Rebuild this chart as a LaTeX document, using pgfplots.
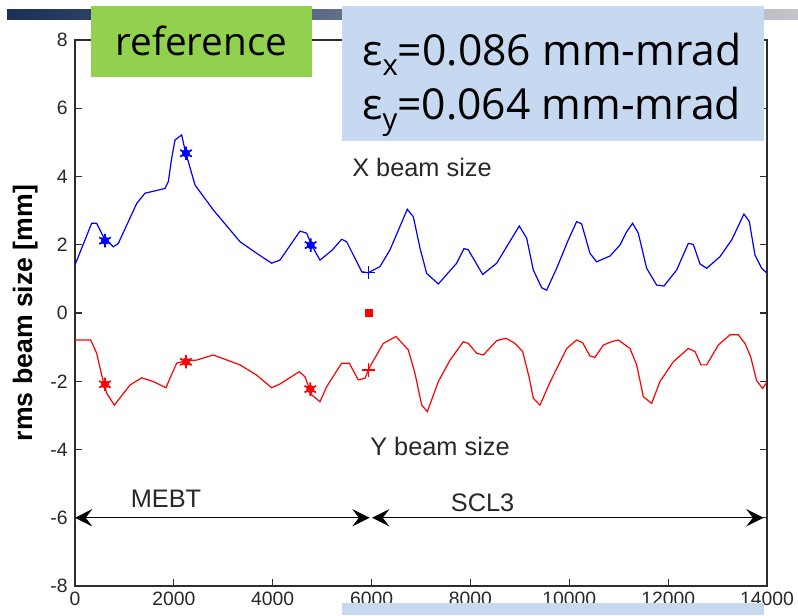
\documentclass[border=0pt]{standalone}
\usepackage{pgfplots}
\pgfplotsset{compat=1.18}
\usepackage{fontspec}
\setmainfont{Liberation Sans}
\newfontfamily\osans{Open Sans}
\usetikzlibrary{arrows.meta}

\definecolor{slidegreen}{RGB}{146,208,80}
\definecolor{slideblue}{RGB}{198,217,241}
\definecolor{barnavy}{RGB}{25,48,88}
\definecolor{bargrey}{RGB}{196,197,202}
\definecolor{axisgrey}{RGB}{45,45,45}
\definecolor{textgrey}{RGB}{40,40,40}

\begin{document}
\begin{tikzpicture}
\useasboundingbox (0,0) rectangle (598.5pt,461.25pt);

\begin{axis}[
  at={(56.25pt,21.75pt)}, anchor=south west,
  scale only axis, width=519pt, height=409.5pt,
  xmin=0, xmax=14000, ymin=-8, ymax=8,
  xtick={0,2000,...,14000}, ytick={-8,-6,...,8},
  scaled x ticks=false,
  tick align=inside, major tick length=5pt,
  axis line style={line width=0.9pt, draw=axisgrey},
  every tick/.style={line width=0.9pt, draw=axisgrey},
  every tick label/.append style={font=\fontsize{14.5}{16}\selectfont, text=textgrey},
  /pgf/number format/assume math mode=true,
  /pgf/number format/1000 sep={},
  yticklabel style={xshift=-2pt},
  xticklabel style={yshift=-1pt},
  ylabel={rms beam size [mm]},
  ylabel style={font=\bfseries\fontsize{20}{22}\selectfont, at={(axis description cs:-0.072,0.5)}, anchor=center},
  clip=false,
]
% horizontal beam size
\addplot[blue, line width=0.9pt] coordinates {
(0,1.41)(337,2.63)(438,2.63)(573,2.24)(776,1.94)(877,2.04)(1248,3.21)(1416,3.51)
(1821,3.65)(1888,3.85)(1955,4.53)(2023,5.07)(2158,5.22)(2225,4.78)(2428,3.75)
(2798,3.02)(3338,2.09)(3675,1.75)(3978,1.46)(4147,1.55)(4552,2.40)(4687,2.34)
(4788,1.99)(4956,1.55)(5200,1.84)(5395,2.16)(5496,2.09)(5800,1.21)(5934,1.18)
(6170,1.36)(6372,1.85)(6723,3.04)(6845,2.82)(6980,1.90)(7115,1.16)(7351,0.85)
(7722,1.46)(7870,1.89)(7957,1.85)(8248,1.13)(8531,1.46)(8988,2.55)(9138,2.19)
(9272,1.26)(9441,0.74)(9542,0.67)(9744,1.31)(9980,2.14)(10149,2.68)(10250,2.61)
(10418,1.75)(10553,1.50)(10823,1.67)(11025,1.99)(11160,2.38)(11281,2.63)
(11396,2.34)(11565,1.31)(11767,0.82)(11915,0.79)(12172,1.26)(12408,2.04)
(12509,2.01)(12644,1.44)(12779,1.31)(13048,1.65)(13285,2.14)(13533,2.90)
(13642,2.68)(13756,1.70)(13891,1.31)(13992,1.18)};
% vertical beam size (plotted negative)
\addplot[red, line width=0.9pt] coordinates {
(0,-0.79)(317,-0.79)(438,-1.18)(540,-1.82)(641,-2.35)(796,-2.70)(1113,-2.11)
(1349,-1.90)(1585,-2.01)(1841,-2.19)(1922,-1.91)(2057,-1.47)(2225,-1.40)
(2462,-1.38)(2798,-1.23)(3338,-1.52)(3675,-1.82)(3978,-2.19)(4147,-2.08)
(4538,-1.72)(4653,-1.87)(4788,-2.40)(4956,-2.60)(5091,-2.16)(5395,-1.47)
(5549,-1.47)(5731,-1.96)(5867,-1.91)(5968,-1.57)(6237,-0.89)(6494,-0.69)
(6743,-1.08)(6878,-1.77)(7014,-2.70)(7128,-2.89)(7351,-2.01)(7587,-1.38)
(7856,-0.84)(7957,-0.89)(8126,-1.18)(8261,-1.23)(8531,-0.81)(8719,-0.74)
(8901,-0.89)(9057,-1.13)(9191,-1.91)(9272,-2.50)(9407,-2.70)(9609,-2.03)
(9947,-1.04)(10149,-0.79)(10270,-0.87)(10418,-1.26)(10519,-1.30)(10688,-0.94)
(10857,-0.84)(10991,-0.79)(11228,-1.04)(11363,-1.52)(11497,-2.45)(11666,-2.65)
(11834,-2.01)(12104,-1.43)(12408,-1.04)(12543,-1.13)(12664,-1.52)(12779,-1.52)
(13014,-0.94)(13250,-0.64)(13419,-0.64)(13554,-0.89)(13669,-1.28)(13790,-1.98)
(13911,-2.21)(13992,-2.04)};
% measured sizes
\addplot[blue, only marks, mark=asterisk, mark size=5pt, mark options={line width=1.3pt}]
  coordinates {(607,2.12)(2245,4.68)(4768,1.99)};
\addplot[blue, only marks, mark=*, mark size=2.8pt]
  coordinates {(607,2.12)(2245,4.68)(4768,1.99)};
\addplot[red, only marks, mark=asterisk, mark size=5pt, mark options={line width=1.3pt}]
  coordinates {(607,-2.09)(2245,-1.43)(4760,-2.23)};
\addplot[red, only marks, mark=*, mark size=2.8pt]
  coordinates {(607,-2.09)(2245,-1.43)(4760,-2.23)};
\addplot[blue, only marks, mark=+, mark size=5pt, mark options={line width=0.9pt}]
  coordinates {(5934,1.18)};
\addplot[red, only marks, mark=+, mark size=5pt, mark options={line width=0.9pt}]
  coordinates {(5934,-1.67)};
\addplot[red, only marks, mark=square*, mark size=2.6pt]
  coordinates {(5934,0)};
% section extents
\addplot[black, line width=0.75pt, arrows={Stealth[length=13pt,width=13pt,inset=5pt]-Stealth[length=13pt,width=13pt,inset=5pt]}]
  coordinates {(0,-6)(5960,-6)};
\addplot[black, line width=0.75pt, arrows={Stealth[length=13pt,width=13pt,inset=5pt]-Stealth[length=13pt,width=13pt,inset=5pt]}]
  coordinates {(6010,-6)(13930,-6)};
\node[font=\fontsize{19}{21}\selectfont, text=textgrey] at (axis cs:1841,-5.45) {MEBT};
\node[font=\fontsize{19}{21}\selectfont, text=textgrey] at (axis cs:8245,-5.55) {SCL3};
\node[font=\fontsize{19}{21}\selectfont, text=textgrey] at (axis cs:7020,4.28) {X beam size};
\node[font=\fontsize{19}{21}\selectfont, text=textgrey] at (axis cs:7384,-3.90) {Y beam size};
\end{axis}

% slide decorations drawn over the plot, in pixel units from the top left
\begin{scope}[x=0.75pt,y=-0.75pt,yshift=461.25pt]
  \shade[left color=barnavy, right color=bargrey] (7,10) rectangle (798,20);
  \fill[slidegreen] (91,6) rectangle (312,77);
  \node[font=\osans\fontsize{29}{30}\selectfont, anchor=center] at (201.5,41) {reference};
  \fill[slideblue] (342,6) rectangle (764,141);
  \node[anchor=base west, inner sep=0pt, font=\osans\fontsize{32}{34}\selectfont] at (362,66)
    {ε\raisebox{-0.22em}{\fontsize{22}{22}\selectfont x}=0.086 mm-mrad};
  \node[anchor=base west, inner sep=0pt, font=\osans\fontsize{32}{34}\selectfont] at (362,120)
    {ε\raisebox{-0.22em}{\fontsize{22}{22}\selectfont y}=0.064 mm-mrad};
  \fill[slideblue] (342,603) rectangle (764,615);
\end{scope}
\end{tikzpicture}
\end{document}
